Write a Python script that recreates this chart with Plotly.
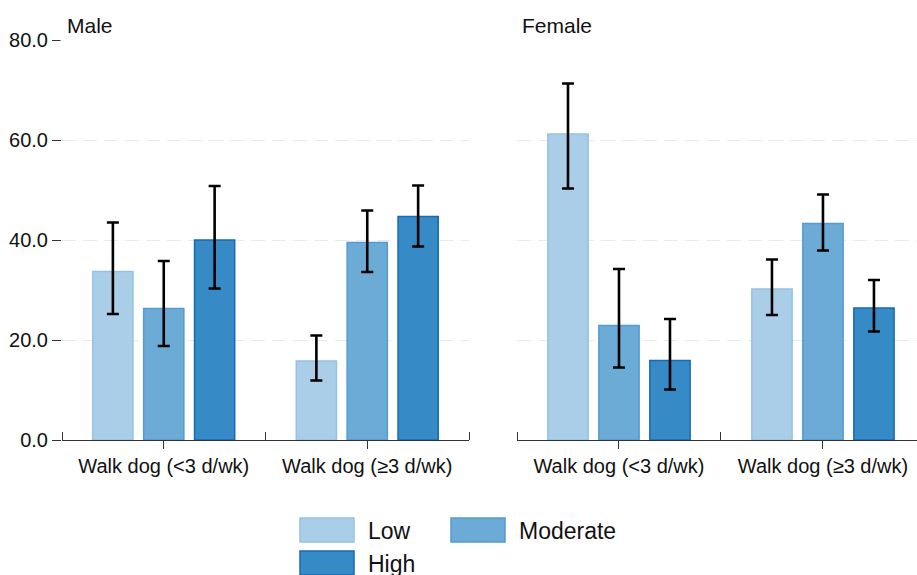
import plotly.graph_objects as go
from plotly.subplots import make_subplots

# Prevalence (%) with 95% CI by dog-walking frequency and activity level
categories = ["Walk dog (<3 d/wk)", "Walk dog (\u22653 d/wk)"]
levels = ["Low", "Moderate", "High"]
panels = ["Male", "Female"]

male_low = [33.7, 15.8]
male_low_lo = [25.2, 11.9]
male_low_hi = [43.5, 20.9]
male_moderate = [26.3, 39.5]
male_moderate_lo = [18.8, 33.6]
male_moderate_hi = [35.8, 45.9]
male_high = [40.0, 44.7]
male_high_lo = [30.3, 38.7]
male_high_hi = [50.8, 50.9]

female_low = [61.2, 30.2]
female_low_lo = [50.3, 25.0]
female_low_hi = [71.3, 36.1]
female_moderate = [22.9, 43.3]
female_moderate_lo = [14.5, 37.9]
female_moderate_hi = [34.2, 49.1]
female_high = [15.9, 26.4]
female_high_lo = [10.1, 21.7]
female_high_hi = [24.2, 32.0]

y_ticks = [0, 20, 40, 60, 80]

fills = {"Low": "rgb(170,206,232)", "Moderate": "rgb(108,171,214)", "High": "rgb(54,138,198)"}
edges = {"Low": "rgb(148,194,228)", "Moderate": "rgb(84,155,207)", "High": "rgb(24,106,180)"}

data = {
    "Male": {
        "Low": (male_low, male_low_lo, male_low_hi),
        "Moderate": (male_moderate, male_moderate_lo, male_moderate_hi),
        "High": (male_high, male_high_lo, male_high_hi),
    },
    "Female": {
        "Low": (female_low, female_low_lo, female_low_hi),
        "Moderate": (female_moderate, female_moderate_lo, female_moderate_hi),
        "High": (female_high, female_high_lo, female_high_hi),
    },
}

FONT = "Liberation Sans, Arial, Helvetica, sans-serif"
W, H = 917, 575
ML, MT, MB = 62, 40, 135
plot_w = W - ML
plot_h = H - MT - MB

fig = make_subplots(rows=1, cols=2, shared_yaxes=False, horizontal_spacing=0.0)

xpos = list(range(len(categories)))
for ci, panel in enumerate(panels, start=1):
    for lev in levels:
        mean, lo, hi = data[panel][lev]
        fig.add_trace(
            go.Bar(
                x=xpos,
                y=mean,
                name=lev,
                showlegend=False,
                offsetgroup=lev,
                marker=dict(color=fills[lev], line=dict(color=edges[lev], width=1.5)),
                error_y=dict(
                    type="data",
                    symmetric=False,
                    array=[h - m for h, m in zip(hi, mean)],
                    arrayminus=[m - l for m, l in zip(mean, lo)],
                    color="black",
                    thickness=2.6,
                    width=6,
                ),
            ),
            row=1,
            col=ci,
        )

left_end = (469 - ML) / plot_w
right_start = (517 - ML) / plot_w

xcommon = dict(
    tickmode="array",
    tickvals=xpos,
    ticktext=categories,
    ticks="outside",
    ticklen=8,
    tickwidth=1.3,
    tickcolor="#333",
    showline=True,
    linecolor="#333",
    linewidth=1.3,
    showgrid=False,
    zeroline=False,
    tickfont=dict(family=FONT, size=20, color="#111"),
    minor=dict(
        tickmode="array",
        tickvals=[-0.5, 0.5, 1.5],
        ticks="inside",
        ticklen=8,
        tickwidth=1.3,
        tickcolor="#333",
        showgrid=False,
    ),
)
fig.update_xaxes(domain=[0, left_end], range=[-0.5, 1.5], row=1, col=1, **xcommon)
fig.update_xaxes(domain=[right_start, 1], range=[-0.5, 1.461], row=1, col=2, **xcommon)

ycommon = dict(
    range=[0, 80],
    tickvals=y_ticks,
    showgrid=True,
    gridcolor="rgb(234,234,234)",
    gridwidth=1,
    griddash="14px,7px",
    zeroline=False,
    showline=False,
)
fig.update_yaxes(
    row=1, col=1,
    ticks="outside", ticklen=9, tickwidth=1.3, tickcolor="#333",
    tickformat=".1f",
    tickfont=dict(family=FONT, size=20, color="#111"),
    **ycommon,
)
fig.update_yaxes(row=1, col=2, showticklabels=False, ticks="", **ycommon)

# Panel titles (white box hides the top gridline behind the text)
for panel, x0 in zip(panels, [0, right_start]):
    fig.add_annotation(
        text=panel, xref="paper", yref="paper", x=x0, y=1,
        xanchor="left", yanchor="bottom", yshift=-4, xshift=-2, showarrow=False,
        bgcolor="white", borderpad=6,
        font=dict(family=FONT, size=21, color="#111"),
    )

# Legend drawn below the panels
def px_x(px):
    return (px - ML) / plot_w

def px_y(py):
    return (H - MB - py) / plot_h

legend_slots = {"Low": (300, 518), "Moderate": (451, 518), "High": (300, 551)}
for lev in levels:
    lx, ly = legend_slots[lev]
    fig.add_shape(
        type="rect", xref="paper", yref="paper",
        x0=px_x(lx), x1=px_x(lx + 54), y0=px_y(ly), y1=px_y(ly + 24),
        fillcolor=fills[lev], line=dict(color=edges[lev], width=1.5),
    )
    fig.add_annotation(
        text=lev, xref="paper", yref="paper",
        x=px_x(lx + 66), y=px_y(ly + 13), xanchor="left", yanchor="middle",
        showarrow=False, font=dict(family=FONT, size=23, color="#111"),
    )

fig.update_layout(
    width=W,
    height=H,
    barmode="group",
    bargap=0.25,
    bargroupgap=0.21,
    plot_bgcolor="white",
    paper_bgcolor="white",
    margin=dict(l=ML, r=0, t=MT, b=MB),
    showlegend=False,
    font=dict(family=FONT, color="#111"),
)

fig.write_html("out.html")
